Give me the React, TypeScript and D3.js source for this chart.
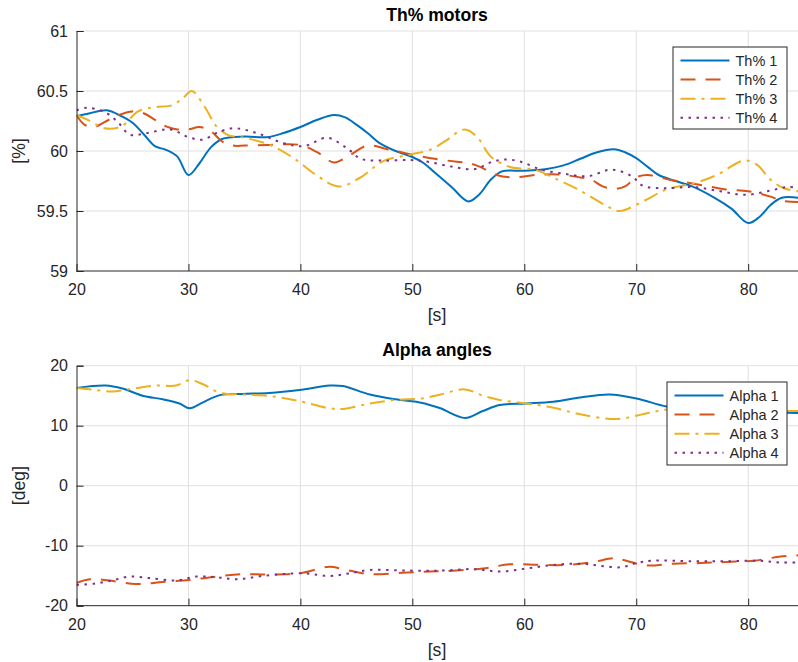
import React, { useEffect, useRef } from "react";
import * as d3 from "d3";

type Pt = [number, number];

// Th% motors (time [s], value [%])
const th1: Pt[] = [[20,60.29],[21,60.31],[22.7,60.34],[24,60.29],[25,60.235],[26,60.14],[27,60.04],[28,60.01],[29,59.955],[30,59.8],[31,59.9],[32,60.03],[33,60.1],[35,60.12],[37,60.115],[38.5,60.15],[40,60.2],[41.5,60.26],[43,60.3],[44,60.28],[45,60.22],[46,60.15],[47,60.07],[48.5,60.0],[50,59.95],[51,59.9],[52,59.82],[53.5,59.7],[55,59.58],[56,59.64],[57,59.76],[58,59.83],[60,59.835],[62,59.85],[63.5,59.88],[65,59.935],[66.5,59.99],[68,60.015],[69,59.99],[70,59.94],[71,59.87],[72,59.8],[73.5,59.75],[75,59.705],[77,59.61],[78.5,59.52],[80,59.4],[81,59.45],[82,59.55],[83,59.61],[84.5,59.61]];
const th2: Pt[] = [[20,60.3],[20.7,60.22],[21.6,60.2],[22.5,60.24],[23.5,60.29],[25,60.33],[26,60.315],[27,60.26],[28,60.205],[29,60.18],[30,60.18],[31,60.2],[32,60.165],[33,60.08],[34,60.045],[35,60.045],[37,60.05],[40,60.05],[41.5,59.99],[43,59.905],[44.5,59.97],[46,60.045],[48,60.01],[50,59.97],[52,59.935],[54,59.91],[55,59.9],[56,59.87],[57.5,59.8],[59,59.78],[61,59.8],[63,59.805],[65,59.78],[66,59.76],[67,59.705],[68,59.685],[69,59.705],[70,59.78],[71,59.8],[73,59.76],[75,59.73],[78,59.68],[80,59.665],[82,59.62],[83,59.585],[84.5,59.575]];
const th3: Pt[] = [[20,60.3],[21,60.26],[22.5,60.19],[24,60.205],[25.5,60.33],[27,60.365],[28.5,60.38],[29.5,60.44],[30.3,60.5],[31.5,60.36],[32.5,60.205],[33.5,60.135],[35,60.11],[37.3,60.05],[39.4,59.94],[41.4,59.8],[43.4,59.705],[45.3,59.775],[47.4,59.915],[49.8,59.97],[51.6,60.01],[52.9,60.08],[54.7,60.18],[55.85,60.11],[57,59.955],[58.8,59.865],[60.9,59.845],[63,59.76],[65.1,59.665],[67.2,59.55],[68.5,59.5],[70.6,59.58],[72.7,59.68],[75.1,59.73],[77.2,59.8],[79.6,59.92],[80.8,59.885],[82,59.76],[83.2,59.69],[84.5,59.665]];
const th4: Pt[] = [[20,60.34],[20.9,60.36],[22.4,60.33],[23.6,60.25],[24.8,60.135],[26.3,60.15],[28.4,60.18],[30,60.115],[31.3,60.095],[32.5,60.15],[34,60.19],[36.1,60.15],[38.5,60.065],[40.3,60.04],[42.4,60.11],[44.2,60.02],[45.4,59.935],[47.4,59.92],[49.8,59.925],[51.4,59.91],[53.5,59.87],[55.6,59.85],[57,59.905],[58.3,59.93],[59.7,59.91],[61.5,59.845],[63.6,59.81],[65.7,59.79],[67.8,59.845],[69.6,59.79],[70.6,59.71],[72.7,59.69],[75.1,59.7],[77.5,59.665],[79.8,59.635],[82,59.67],[83.5,59.7],[84.5,59.69]];

// Alpha angles (time [s], value [deg])
const alpha1: Pt[] = [[20,16.3],[22.6,16.7],[24.1,16.2],[25.9,15.0],[27.7,14.4],[29.2,13.7],[30.1,12.9],[31.3,13.9],[32.8,15.1],[34.8,15.3],[37.2,15.45],[39.9,15.95],[42.6,16.7],[43.8,16.6],[46.2,15.2],[48.5,14.4],[50.9,13.8],[52.5,12.9],[54.7,11.3],[56.3,12.45],[57.8,13.45],[60.2,13.7],[62.6,14.0],[65,14.7],[67.6,15.2],[70,14.55],[72.7,13.2],[75,12.7],[78,12.6],[81,12.3],[84.5,12.1]];
const alpha2: Pt[] = [[20,-16.2],[21.2,-15.6],[22.9,-15.8],[25.3,-16.4],[27.7,-16.05],[30.1,-15.7],[32.5,-15.15],[34.8,-14.75],[37.2,-14.8],[39.9,-14.6],[42.6,-13.5],[43.8,-13.9],[46.2,-14.75],[49.1,-14.5],[51.5,-14.3],[53.3,-14.2],[56.3,-13.8],[58.7,-13.1],[61.4,-13.2],[63.8,-13.2],[66.2,-12.7],[68,-12.1],[69.1,-12.5],[70.9,-13.3],[73.3,-13.0],[75.7,-12.9],[78.1,-12.7],[80.5,-12.5],[82.9,-11.8],[84.5,-11.6]];
const alpha3: Pt[] = [[20,16.3],[21.5,16.0],[23.2,15.7],[25.1,16.2],[27.1,16.7],[28.9,16.7],[30.1,17.6],[31.3,16.9],[32.8,15.5],[34.8,15.2],[37.2,14.95],[39.9,14.1],[42.6,12.9],[43.8,12.8],[46.2,13.7],[48.5,14.3],[50.9,14.55],[52.5,15.2],[54.7,16.05],[56.3,15.0],[57.8,14.3],[60.2,13.7],[62.6,13.0],[65,11.9],[68.2,11.1],[70.9,12.05],[72.7,12.7],[75,12.9],[78,12.6],[81,12.5],[84.5,12.45]];
const alpha4: Pt[] = [[20,-16.55],[21.7,-16.3],[23.2,-15.8],[24.7,-15.15],[26.5,-15.4],[28.9,-15.8],[30.7,-15.15],[32.5,-15.25],[34.3,-15.6],[36.6,-15.05],[40.2,-14.6],[42.6,-15.05],[44.4,-14.6],[46.2,-14.05],[49.7,-14.15],[52.7,-14.15],[55.4,-13.9],[57.8,-14.3],[60.2,-13.8],[62.6,-13.2],[65,-13.0],[66.8,-13.35],[68.6,-13.6],[70,-12.9],[71.5,-12.5],[75.1,-12.6],[78.1,-12.6],[81,-12.5],[82.9,-12.8],[84.5,-12.8]];

const thNames = ["Th% 1", "Th% 2", "Th% 3", "Th% 4"];
const alphaNames = ["Alpha 1", "Alpha 2", "Alpha 3", "Alpha 4"];
const xTicks = [20, 30, 40, 50, 60, 70, 80];
const thTicks = [59, 59.5, 60, 60.5, 61];
const alphaTicks = [-20, -10, 0, 10, 20];

const colors = ["#0072BD", "#D95319", "#EDB120", "#7E2F8E"];
const dashes = ["none", "15,10", "15,6,3,6", "2.5,5.5"];
const font = "'Liberation Sans', Arial, Helvetica, sans-serif";
const axisColor = "#262626";

function drawPanel(svg: any, o: any) {
  const x = d3.scaleLinear().domain([20, 84.45]).range([76.5, 798]);
  const y = d3.scaleLinear().domain(o.yDomain).range([o.bottom, o.top]);
  const g = svg.append("g");

  // grid
  g.selectAll(".gx").data(xTicks.slice(1)).join("line")
    .attr("x1", (d: number) => x(d)).attr("x2", (d: number) => x(d))
    .attr("y1", o.top).attr("y2", o.bottom)
    .attr("stroke", "#e0e0e0").attr("stroke-width", 1);
  g.selectAll(".gy").data(o.yTicks.slice(1)).join("line")
    .attr("x1", x(20)).attr("x2", 798)
    .attr("y1", (d: number) => y(d)).attr("y2", (d: number) => y(d))
    .attr("stroke", "#e0e0e0").attr("stroke-width", 1);

  // lines
  const clipId = "clip" + o.id;
  svg.append("clipPath").attr("id", clipId).append("rect")
    .attr("x", x(20)).attr("y", o.top - 2).attr("width", 798 - x(20)).attr("height", o.bottom - o.top + 4);
  const line = d3.line<Pt>().x(d => x(d[0])).y(d => y(d[1])).curve(d3.curveCatmullRom.alpha(0.5));
  g.append("g").attr("clip-path", `url(#${clipId})`)
    .selectAll("path").data(o.series).join("path")
    .attr("d", (d: Pt[]) => line(d))
    .attr("fill", "none")
    .attr("stroke", (_: any, i: number) => colors[i])
    .attr("stroke-width", 2)
    .attr("stroke-dasharray", (_: any, i: number) => dashes[i]);

  // axes
  const ax = g.append("g").attr("transform", `translate(0,${o.bottom})`)
    .call(d3.axisBottom(x).tickValues(xTicks).tickSize(-7).tickPadding(12.6).tickFormat(d3.format("d")));
  const ay = g.append("g").attr("transform", `translate(${x(20)},0)`)
    .call(d3.axisLeft(y).tickValues(o.yTicks).tickSize(-7).tickPadding(8.5).tickFormat((d: any) => String(d)));
  [ax, ay].forEach(a => {
    a.select(".domain").attr("stroke", axisColor);
    a.selectAll(".tick line").attr("stroke", axisColor);
    a.selectAll("text").attr("fill", axisColor).style("font-size", "16px").style("font-family", font);
  });
  ax.select(".domain").attr("d", `M${x(20)},0H798`);

  // labels
  g.append("text").attr("x", 437).attr("y", o.top - 10).attr("text-anchor", "middle")
    .style("font-family", font).style("font-size", "17.6px").style("font-weight", "bold")
    .attr("fill", "#000").text(o.title);
  g.append("text").attr("x", 437).attr("y", o.bottom + 50).attr("text-anchor", "middle")
    .style("font-family", font).style("font-size", "17.6px").attr("fill", axisColor).text("[s]");
  g.append("text").attr("transform", `translate(25,${(o.top + o.bottom) / 2}) rotate(-90)`)
    .attr("text-anchor", "middle")
    .style("font-family", font).style("font-size", "17.6px").attr("fill", axisColor).text(o.ylabel);

  // legend
  const lg = g.append("g");
  lg.append("rect").attr("x", o.leg.x).attr("y", o.leg.y).attr("width", o.leg.w).attr("height", o.leg.h)
    .attr("fill", "#fff").attr("stroke", axisColor).attr("stroke-width", 1);
  const rows = lg.selectAll(".row").data(o.names).join("g")
    .attr("transform", (_: any, i: number) => `translate(0,${o.leg.y + 13.5 + i * 19.1})`);
  rows.append("line")
    .attr("x1", o.leg.x + 7.5).attr("x2", o.leg.x + 56.5).attr("y1", 0).attr("y2", 0)
    .attr("stroke", (_: any, i: number) => colors[i]).attr("stroke-width", 2)
    .attr("stroke-dasharray", (_: any, i: number) => dashes[i]);
  rows.append("text").attr("x", o.leg.x + 62.5).attr("y", 0).attr("dy", "0.35em")
    .style("font-family", font).style("font-size", "14.5px").attr("fill", axisColor)
    .text((d: string) => d);
}

export default function App() {
  const ref = useRef<SVGSVGElement>(null);
  useEffect(() => {
    const svg = d3.select(ref.current);
    svg.selectAll("*").remove();
    drawPanel(svg, {
      id: "a", top: 31, bottom: 271, yDomain: [59, 61], yTicks: thTicks,
      series: [th1, th2, th3, th4], names: thNames, title: "Th% motors", ylabel: "[%]",
      leg: { x: 673, y: 47, w: 114, h: 82 },
    });
    drawPanel(svg, {
      id: "b", top: 365.7, bottom: 605.7, yDomain: [-20, 20], yTicks: alphaTicks,
      series: [alpha1, alpha2, alpha3, alpha4], names: alphaNames, title: "Alpha angles", ylabel: "[deg]",
      leg: { x: 667, y: 382, w: 120, h: 83 },
    });
  }, []);
  return (
    <svg ref={ref} width={798} height={662}
      style={{ position: "absolute", left: 0, top: 0, background: "#fff" }} />
  );
}
